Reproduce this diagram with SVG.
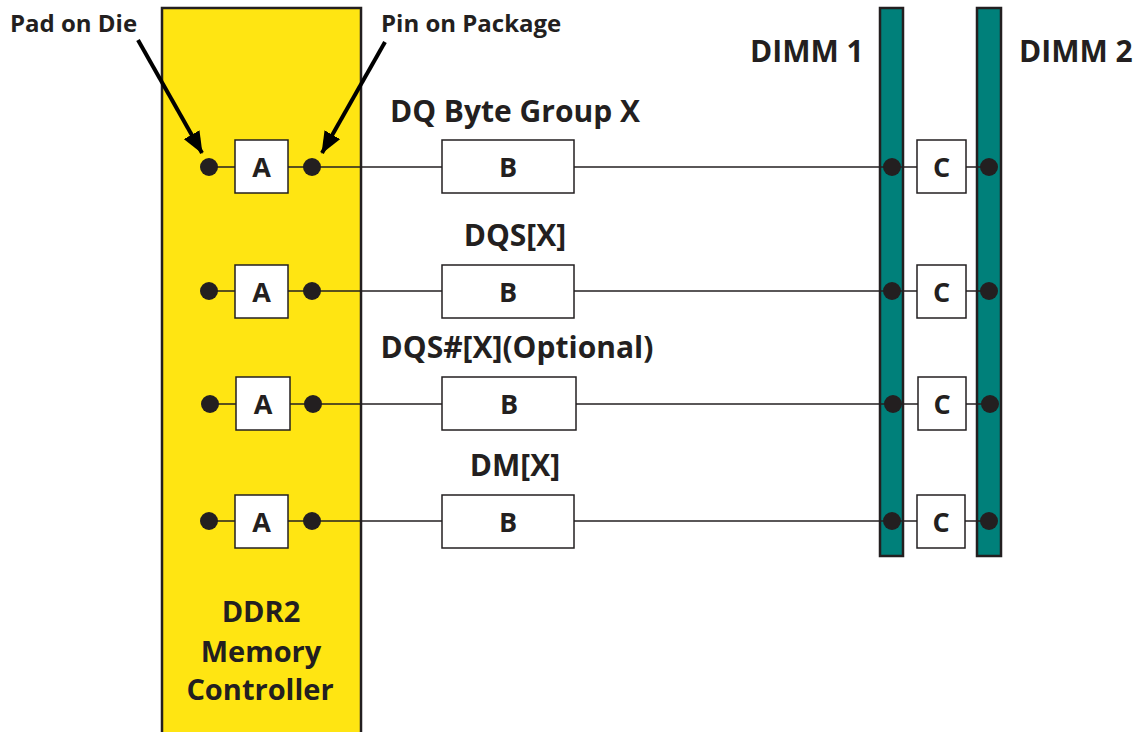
<svg xmlns="http://www.w3.org/2000/svg" width="1137" height="732" viewBox="0 0 1137 732">
  <defs>
    <marker id="arrowhead" viewBox="0 0 22 18" refX="21" refY="9" markerWidth="22" markerHeight="18" markerUnits="userSpaceOnUse" orient="auto">
      <path d="M0,0 L22,9 L0,18 z" fill="#000"/>
    </marker>
  </defs>
  <style>
    text { font-family: "Open Sans", "Noto Sans", "Liberation Sans", sans-serif; font-weight: bold; fill: #231f20; }
    .lbl { font-size: 30px; }
    .ctl { font-size: 29px; }
    .ltr { font-size: 27px; }
    .small { font-size: 24px; }
    .box { fill: #fff; stroke: #231f20; stroke-width: 1.5; }
    .dot { fill: #231f20; }
    .wire { stroke: #231f20; stroke-width: 1.5; fill: none; }
    .bar { fill: #00807a; stroke: #231f20; stroke-width: 2.5; }
    .ptr { stroke: #000; stroke-width: 4; fill: none; }
  </style>

  <!-- controller body -->
  <g id="controller">
    <rect x="162" y="8" width="199" height="740" fill="#ffe512" stroke="#231f20" stroke-width="2.5"/>
    <text class="ctl" x="261" y="622" text-anchor="middle">DDR2</text>
    <text class="ctl" x="261" y="662" text-anchor="middle">Memory</text>
    <text class="ctl" x="260" y="700" text-anchor="middle">Controller</text>
  </g>

  <!-- DIMM slots -->
  <g id="dimm1">
    <rect class="bar" x="880" y="8" width="23" height="548"/>
    <text class="lbl" x="750" y="62">DIMM 1</text>
  </g>
  <g id="dimm2">
    <rect class="bar" x="977" y="8" width="24" height="548"/>
    <text class="lbl" x="1019" y="62">DIMM 2</text>
  </g>

  <!-- signal wires -->
  <g id="connectors">
    <line class="wire" x1="209" y1="167" x2="892" y2="167" stroke-width="2"/>
    <line class="wire" x1="892" y1="167" x2="989" y2="167"/>
    <line class="wire" x1="209" y1="291" x2="989" y2="291"/>
    <line class="wire" x1="209" y1="404" x2="990" y2="404"/>
    <line class="wire" x1="209" y1="521" x2="989" y2="521"/>
    <line class="ptr" x1="138" y1="40" x2="202" y2="153" marker-end="url(#arrowhead)"/>
    <line class="ptr" x1="385" y1="42" x2="322" y2="153" marker-end="url(#arrowhead)"/>
  </g>

  <!-- callout labels -->
  <g id="callouts">
    <text class="small" x="10" y="32">Pad on Die</text>
    <text class="small" x="381" y="32">Pin on Package</text>
  </g>

  <!-- row: DQ byte group -->
  <g id="row-dq">
    <circle class="dot" cx="209" cy="167" r="9"/>
    <rect class="box" x="235" y="140" width="53" height="53"/>
    <text class="ltr" x="261.5" y="177" text-anchor="middle">A</text>
    <circle class="dot" cx="312" cy="167" r="9"/>
    <text class="lbl" x="515" y="122" text-anchor="middle">DQ Byte Group X</text>
    <rect class="box" x="442" y="140" width="132" height="53"/>
    <text class="ltr" x="508" y="177" text-anchor="middle">B</text>
    <circle class="dot" cx="892" cy="167" r="9"/>
    <rect class="box" x="917" y="140" width="49" height="53"/>
    <text class="ltr" x="941.5" y="177" text-anchor="middle">C</text>
    <circle class="dot" cx="989" cy="167" r="9"/>
  </g>

  <!-- row: DQS -->
  <g id="row-dqs">
    <circle class="dot" cx="209" cy="291" r="9"/>
    <rect class="box" x="235" y="265" width="53" height="53"/>
    <text class="ltr" x="261.5" y="302" text-anchor="middle">A</text>
    <circle class="dot" cx="312" cy="291" r="9"/>
    <text class="lbl" x="515" y="246" text-anchor="middle">DQS[X]</text>
    <rect class="box" x="442" y="265" width="132" height="53"/>
    <text class="ltr" x="508" y="302" text-anchor="middle">B</text>
    <circle class="dot" cx="892" cy="291" r="9"/>
    <rect class="box" x="917" y="265" width="49" height="53"/>
    <text class="ltr" x="941.5" y="302" text-anchor="middle">C</text>
    <circle class="dot" cx="989" cy="291" r="9"/>
  </g>

  <!-- row: DQS# -->
  <g id="row-dqsn">
    <circle class="dot" cx="210" cy="404" r="9"/>
    <rect class="box" x="236" y="377" width="54" height="53"/>
    <text class="ltr" x="263" y="414" text-anchor="middle">A</text>
    <circle class="dot" cx="313" cy="404" r="9"/>
    <text class="lbl" x="517" y="358" text-anchor="middle">DQS#[X](Optional)</text>
    <rect class="box" x="442" y="377" width="134" height="53"/>
    <text class="ltr" x="509" y="414" text-anchor="middle">B</text>
    <circle class="dot" cx="893" cy="404" r="9"/>
    <rect class="box" x="918" y="377" width="48" height="53"/>
    <text class="ltr" x="942" y="414" text-anchor="middle">C</text>
    <circle class="dot" cx="990" cy="404" r="9"/>
  </g>

  <!-- row: DM -->
  <g id="row-dm">
    <circle class="dot" cx="209" cy="521" r="9"/>
    <rect class="box" x="235" y="495" width="53" height="53"/>
    <text class="ltr" x="261.5" y="532" text-anchor="middle">A</text>
    <circle class="dot" cx="312" cy="521" r="9"/>
    <text class="lbl" x="515" y="476" text-anchor="middle">DM[X]</text>
    <rect class="box" x="442" y="495" width="132" height="53"/>
    <text class="ltr" x="508" y="532" text-anchor="middle">B</text>
    <circle class="dot" cx="892" cy="521" r="9"/>
    <rect class="box" x="917" y="495" width="48" height="53"/>
    <text class="ltr" x="941" y="532" text-anchor="middle">C</text>
    <circle class="dot" cx="989" cy="521" r="9"/>
  </g>
</svg>
